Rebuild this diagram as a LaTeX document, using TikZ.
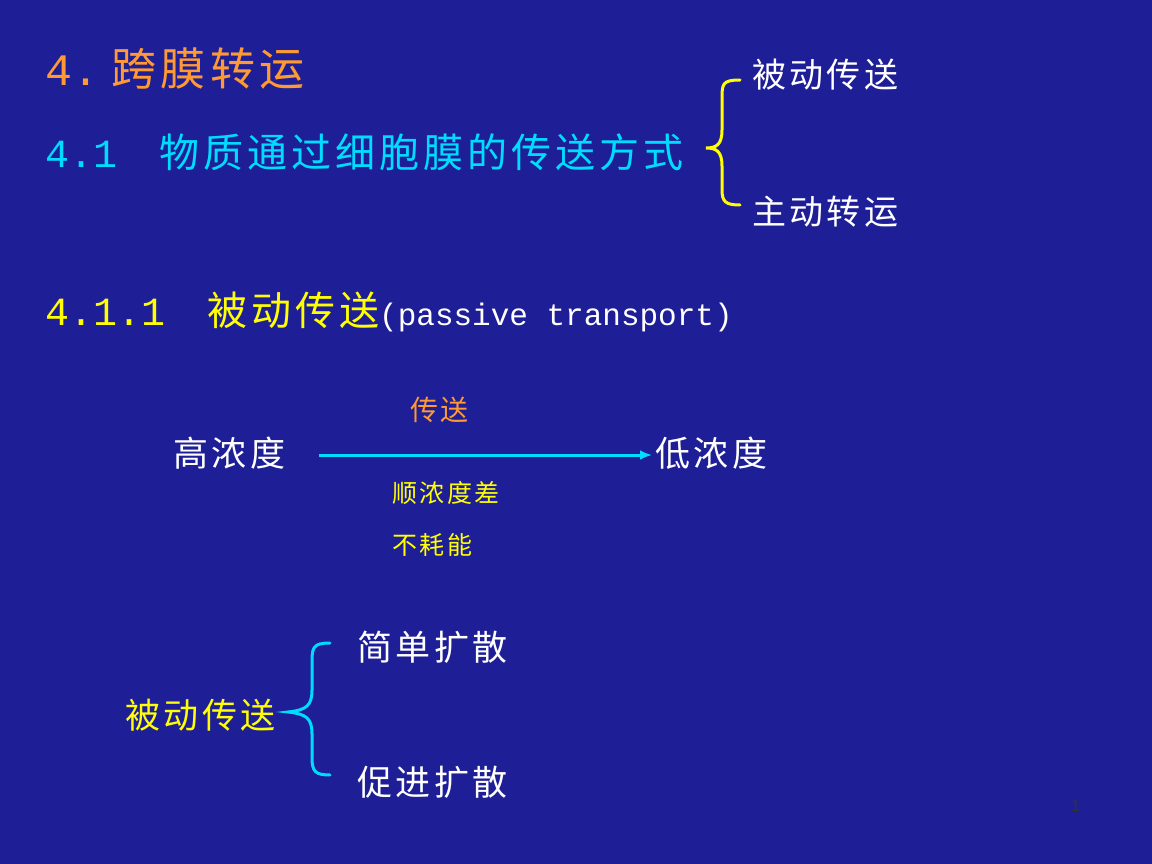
\documentclass[tikz,border=0pt]{standalone}
\usetikzlibrary{arrows.meta}
\usepackage{fontspec}
\newfontfamily\cjk[LetterSpace=10]{Noto Sans CJK SC}
\newfontfamily\mono{Liberation Mono}
\newfontfamily\lsans{Liberation Sans}
\begin{document}
\begin{tikzpicture}[x=1pt,y=-1pt,
  t/.style={inner sep=0pt,anchor=west,font=\cjk},
  brace/.style={line width=3pt,line cap=round}]
\definecolor{bg}{RGB}{30,30,150}
\definecolor{ora}{RGB}{255,153,51}
\definecolor{cya}{RGB}{0,220,255}
\definecolor{yel}{RGB}{255,255,0}
\fill[bg] (0,0) rectangle (1152,864);
\useasboundingbox (0,0) rectangle (1152,864);
\node[t,text=ora,font=\cjk\fontsize{45}{45}\selectfont] (title) at (45,68) {{\mono 4.}\hspace{12pt}跨膜转运};
\node[t,text=cya,font=\cjk\fontsize{40}{40}\selectfont] (s41) at (45,152) {{\mono 4.1}\hspace{42pt}物质通过细胞膜的传送方式};
\node[t,text=white,font=\cjk\fontsize{34}{34}\selectfont] (pb) at (752,75) {被动传送};
\node[t,text=white,font=\cjk\fontsize{34}{34}\selectfont] (zd) at (752,212) {主动转运};
\draw[brace,yel] (740,80) .. controls (722,80) and (722,84) .. (722,100) -- (722,130) .. controls (722,145) and (716,148) .. (706,148)
  .. controls (716,148) and (722,151) .. (722,166) -- (722,190) .. controls (722,202) and (726,205) .. (740,205);
\node[t,text=yel,font=\cjk\fontsize{40}{40}\selectfont] (s411) at (45,312) {{\mono 4.1.1}\hspace{42pt}被动传送{\color{white}\mono\fontsize{31}{31}\selectfont(passive transport)}};
\node[t,text=white,font=\cjk\fontsize{35}{35}\selectfont] (hi) at (173,453) {高浓度};
\node[t,text=white,font=\cjk\fontsize{35}{35}\selectfont] (lo) at (655,453) {低浓度};
\draw[cya,line width=3pt,-{Latex[length=12pt,width=10pt]}] ([xshift=34pt,yshift=-2pt]hi.east) -- ([xshift=-3pt,yshift=-2pt]lo.west);
\node[t,text=ora,font=\cjk\fontsize{28}{28}\selectfont] (cs) at (410,410) {传送};
\node[t,text=yel,font=\cjk\fontsize{25}{25}\selectfont] (sn) at (392,493) {顺浓度差};
\node[t,text=yel,font=\cjk\fontsize{25}{25}\selectfont] (bh) at (392,545) {不耗能};
\node[t,text=white,font=\cjk\fontsize{35}{35}\selectfont] (jd) at (357,647) {简单扩散};
\node[t,text=white,font=\cjk\fontsize{35}{35}\selectfont] (cj) at (357,782) {促进扩散};
\node[t,text=yel,font=\cjk\fontsize{35}{35}\selectfont] (pb2) at (125,715) {被动传送};
\draw[brace,cya] (330,643) .. controls (312,643) and (312,648) .. (312,665) -- (312,690) .. controls (312,706) and (306,710) .. (288,712)
  .. controls (306,714) and (312,718) .. (312,734) -- (312,758) .. controls (312,772) and (316,775) .. (330,775);
\node[t,text=black!80,font=\lsans\fontsize{16}{16}\selectfont] (pg) at (1071,806) {1};
\end{tikzpicture}
\end{document}
